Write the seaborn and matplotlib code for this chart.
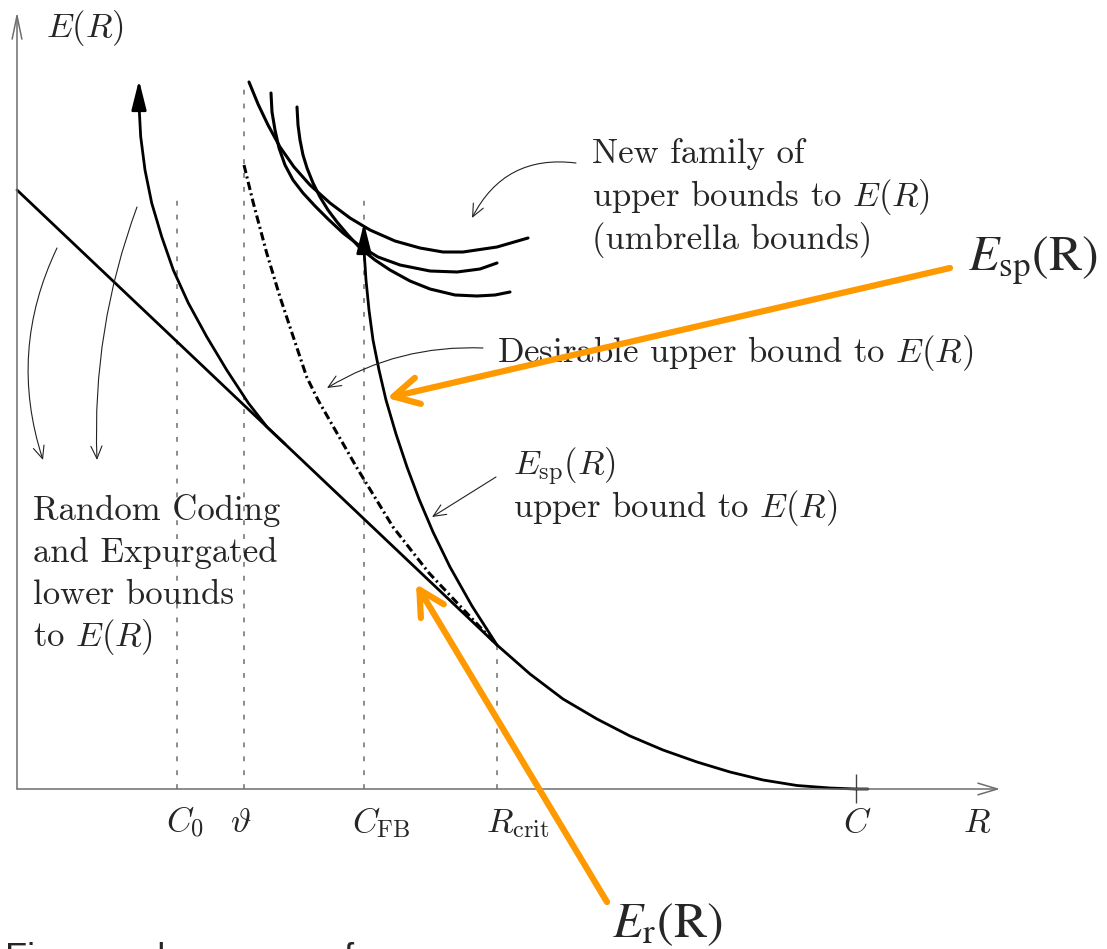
import matplotlib
matplotlib.use('Agg')
import matplotlib.pyplot as plt
import seaborn as sns

# rate / exponent axis (units: R and E, origin at the corner of the axes)
C0, THETA, C_FB, R_CRIT, C_CAP = 1.60, 2.27, 3.47, 4.80, 8.39
x_marks = [C0, THETA, C_FB, R_CRIT]
x_mark_tops = [5.96, 7.07, 5.96, 1.44]

# expurgated straight line and random-coding tail past R_crit
expurg_R = [0.00, 4.80]
expurg_E = [5.99, 1.44]
rc_tail_R = [4.80, 5.13, 5.46, 5.80, 6.13, 6.46, 6.80, 7.13, 7.46, 7.80, 8.13, 8.39, 8.51]
rc_tail_E = [1.44, 1.15, 0.90, 0.70, 0.53, 0.39, 0.27, 0.17, 0.09, 0.035, 0.01, 0.0, 0.0]

# left curve with arrow (tip first)
rc_up_R = [1.22, 1.22, 1.237, 1.28, 1.347, 1.447, 1.563, 1.713, 1.897, 2.097, 2.313, 2.50, 2.68]
rc_up_E = [7.09, 6.84, 6.523, 6.19, 5.86, 5.523, 5.19, 4.86, 4.523, 4.19, 3.86, 3.62, 3.45]

# desirable upper bound (dash-dot)
des_R = [2.27, 2.363, 2.497, 2.63, 2.763, 2.897, 3.01, 3.40, 3.76, 4.12, 4.44, 4.79]
des_E = [6.24, 5.86, 5.36, 4.92, 4.52, 4.12, 3.89, 3.21, 2.62, 2.16, 1.82, 1.45]

# sphere packing bound (tip first)
esp_R = [3.47, 3.47, 3.49, 3.52, 3.56, 3.62, 3.69, 3.79, 3.90, 4.02, 4.16, 4.33, 4.55, 4.80]
esp_E = [5.66, 5.39, 5.09, 4.79, 4.49, 4.19, 3.89, 3.55, 3.22, 2.90, 2.57, 2.22, 1.83, 1.44]

# umbrella bounds
umb_a_R = [2.32, 2.41, 2.51, 2.63, 2.77, 2.93, 3.13, 3.33, 3.53, 3.78, 4.03, 4.26, 4.46, 4.80, 5.11]
umb_a_E = [7.07, 6.85, 6.64, 6.42, 6.22, 6.04, 5.86, 5.71, 5.59, 5.48, 5.41, 5.37, 5.37, 5.42, 5.51]
umb_b_R = [2.54, 2.55, 2.58, 2.62, 2.68, 2.76, 2.86, 2.98, 3.11, 3.26, 3.43, 3.61, 3.83, 4.13, 4.40, 4.63, 4.80]
umb_b_E = [6.96, 6.77, 6.59, 6.41, 6.24, 6.09, 5.96, 5.83, 5.70, 5.56, 5.43, 5.32, 5.24, 5.18, 5.17, 5.20, 5.26]
umb_c_R = [2.80, 2.81, 2.83, 2.86, 2.90, 2.96, 3.03, 3.11, 3.20, 3.31, 3.43, 3.58, 3.73, 3.93, 4.13, 4.38, 4.60, 4.78, 4.93]
umb_c_E = [6.82, 6.64, 6.49, 6.34, 6.21, 6.06, 5.92, 5.79, 5.67, 5.54, 5.41, 5.29, 5.19, 5.08, 5.00, 4.94, 4.93, 4.94, 4.97]

tick_labels = [r'$C_0$', r'$\vartheta$', r'$C_{\rm FB}$', r'$R_{\rm crit}$', r'$C$', r'$R$']
tick_x = [1.49, 2.24, 3.35, 4.69, 8.40, 9.60]
tick_ha = ['left', 'center', 'left', 'left', 'center', 'center']

ORANGE = '#FF9900'
GREY = '#6e6e6e'

sns.set_theme(style='white')
plt.rcParams['font.family'] = 'cmr10'
plt.rcParams['mathtext.fontset'] = 'cm'
plt.rcParams['axes.formatter.use_mathtext'] = True
plt.rcParams['lines.scale_dashes'] = False

fig = plt.figure(figsize=(11.07, 9.49), dpi=100)
ax = fig.add_axes([0, 0, 1, 1])
ax.set_xlim(-0.17, 10.90)
ax.set_ylim(-1.60, 7.89)
ax.axis('off')

# axes with open arrowheads
ax.annotate('', xy=(9.83, 0), xytext=(0, 0),
            arrowprops=dict(arrowstyle='->,head_length=1.0,head_width=0.3', mutation_scale=14,
                            lw=1.1, color=GREY, shrinkA=0, shrinkB=0))
ax.annotate('', xy=(0, 7.77), xytext=(0, 0),
            arrowprops=dict(arrowstyle='->,head_length=1.2,head_width=0.25', mutation_scale=14,
                            lw=1.1, color=GREY, shrinkA=0, shrinkB=0))

ax.vlines(x_marks, 0, x_mark_tops, colors=GREY, linestyles=[(0, (3.5, 6.5))], lw=1.1)
ax.vlines(C_CAP, -0.14, 0.15, colors='#444444', lw=1.0)

# bounds
line_kw = dict(color='black', lw=2.0, sort=False, estimator=None, legend=False, ax=ax)
sns.lineplot(x=expurg_R, y=expurg_E, **line_kw)
sns.lineplot(x=rc_tail_R, y=rc_tail_E, **line_kw)
sns.lineplot(x=rc_up_R[1:], y=rc_up_E[1:], **line_kw)
sns.lineplot(x=esp_R[1:], y=esp_E[1:], **line_kw)
sns.lineplot(x=des_R, y=des_E, color='black', lw=2.2, sort=False, estimator=None,
             linestyle=(0, (6, 2.5, 1.5, 2.5)), ax=ax)
for ur, ue in [(umb_a_R, umb_a_E), (umb_b_R, umb_b_E), (umb_c_R, umb_c_E)]:
    sns.lineplot(x=ur, y=ue, color='black', lw=2.2, sort=False, estimator=None, ax=ax)

head = dict(arrowstyle='-|>,head_length=1.0,head_width=0.25', mutation_scale=18,
            color='black', lw=2.0, shrinkA=0, shrinkB=0)
ax.annotate('', xy=(rc_up_R[0], rc_up_E[0]), xytext=(rc_up_R[1], rc_up_E[1]), arrowprops=head)
ax.annotate('', xy=(esp_R[0], esp_E[0]), xytext=(esp_R[1], esp_E[1]), arrowprops=head)

# tick labels
for lab, tx, ha in zip(tick_labels, tick_x, tick_ha):
    ax.text(tx, -0.43, lab, fontsize=25, ha=ha, va='baseline')
ax.text(0.29, 7.52, r'$E(R)$', fontsize=25, ha='left', va='baseline')

# annotations
fs = 25
for i, s in enumerate(['New family of', r'upper bounds to $E(R)$', '(umbrella bounds)']):
    ax.text(5.75, 6.26 - 0.43 * i, s, fontsize=fs, va='baseline')
ax.text(4.80, 4.27, r'Desirable upper bound to $E(R)$', fontsize=fs, va='baseline')
ax.text(4.96, 3.14, r'$E_{\rm sp}(R)$', fontsize=fs, va='baseline')
ax.text(4.96, 2.72, r'upper bound to $E(R)$', fontsize=fs, va='baseline')
for i, s in enumerate(['Random Coding', 'and Expurgated', 'lower bounds', r'to $E(R)$']):
    ax.text(0.16, 2.69 - 0.42 * i, s, fontsize=fs, va='baseline')

thin = dict(arrowstyle='->,head_length=0.9,head_width=0.4', mutation_scale=10,
            color='#222222', lw=0.8, shrinkA=0, shrinkB=0)
pointers = [((5.59, 6.26), (4.55, 5.71), 0.35),
            ((4.66, 4.41), (3.10, 4.01), 0.15),
            ((4.79, 3.12), (4.15, 2.72), 0.0),
            ((0.40, 5.41), (0.26, 3.29), 0.2),
            ((1.20, 5.82), (0.80, 3.29), 0.1)]
for start, end, rad in pointers:
    ax.annotate('', xy=end, xytext=start,
                arrowprops=dict(thin, connectionstyle=f'arc3,rad={rad}'))

# orange call-outs
orange = dict(arrowstyle='->,head_length=0.6,head_width=0.32', mutation_scale=30,
              color=ORANGE, lw=4.5, shrinkA=0, shrinkB=0, capstyle='round', joinstyle='round')
ax.annotate('', xy=(3.70, 3.91), xytext=(9.33, 5.21), arrowprops=orange)
ax.annotate('', xy=(3.99, 2.05), xytext=(5.90, -1.13), arrowprops=orange)
ax.text(9.51, 5.19, r'$E_{\mathrm{sp}}$(R)', fontsize=36, family='STIXGeneral',
        math_fontfamily='stix', va='baseline')
ax.text(5.95, -1.48, r'$E_{\mathrm{r}}$(R)', fontsize=36, family='STIXGeneral',
        math_fontfamily='stix', va='baseline')

# clipped caption line at the very bottom
ax.text(-0.12, -1.80, 'Figure: a lower one of', fontsize=26, family='Liberation Sans',
        va='baseline', ha='left')

fig.savefig('out.png', dpi=100)
plt.close(fig)
